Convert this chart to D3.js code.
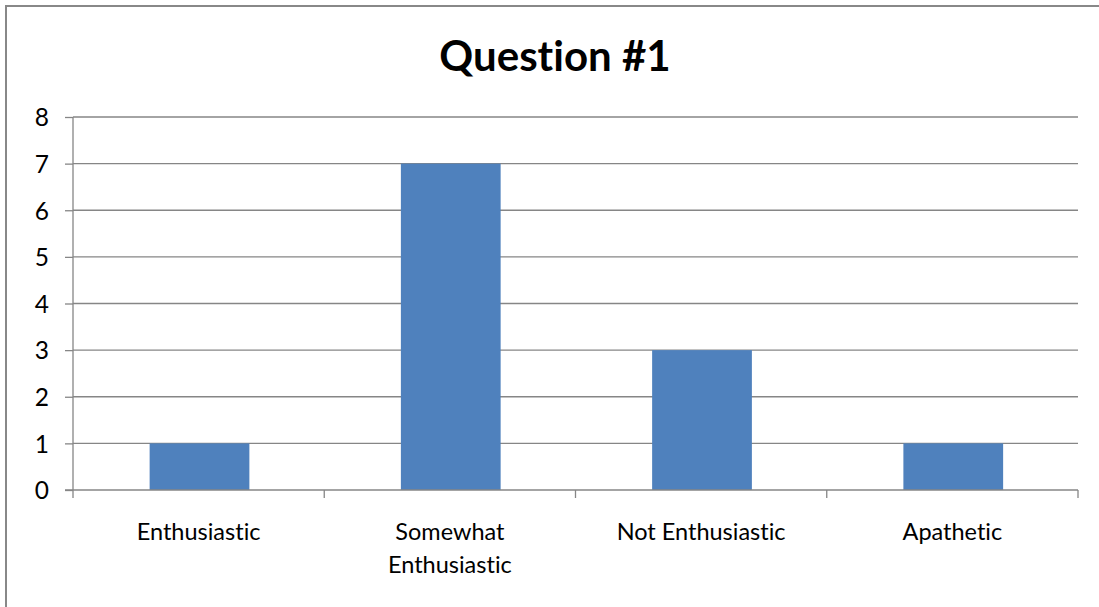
<!DOCTYPE html>
<html>
<head>
<meta charset="utf-8">
<script src="https://cdn.jsdelivr.net/npm/d3@7"></script>
<style>
html,body{margin:0;padding:0;background:#fff;}
svg{display:block;}
text{font-family:Lato, "Open Sans", sans-serif;fill:#000;font-variant-ligatures:none;font-feature-settings:"liga" 0, "clig" 0;}
</style>
</head>
<body>
<svg id="chart" width="1099" height="607"></svg>
<script>
const title = "Question #1";
const categories = [["Enthusiastic"], ["Somewhat", "Enthusiastic"], ["Not Enthusiastic"], ["Apathetic"]];
const values = [1, 7, 3, 1];
const yTicks = [0, 1, 2, 3, 4, 5, 6, 7, 8];

const W = 1099, H = 607;
const m = {left: 73, right: 1078, top: 117, bottom: 490};
const svg = d3.select("#chart");

// outer frame (top and left edges visible)
svg.append("line").attr("x1", 6).attr("x2", W).attr("y1", 6).attr("y2", 6)
  .attr("stroke", "#888").attr("stroke-width", 2);
svg.append("line").attr("x1", 6).attr("x2", 6).attr("y1", 5).attr("y2", H)
  .attr("stroke", "#888").attr("stroke-width", 2);

const keys = categories.map(c => c.join(" "));
const x = d3.scaleBand().domain(keys).range([m.left, m.right]).padding(0);
const y = d3.scaleLinear().domain([0, 8]).range([m.bottom, m.top]);

// gridlines
svg.append("g").selectAll("line").data(yTicks.filter(d => d > 0)).join("line")
  .attr("x1", m.left).attr("x2", m.right)
  .attr("y1", d => y(d)).attr("y2", d => y(d))
  .attr("stroke", "#868686").attr("stroke-width", 1.3);

// bars
const bw = x.bandwidth();
svg.append("g").selectAll("rect").data(values).join("rect")
  .attr("x", (d, i) => x(keys[i]) + bw * 0.305)
  .attr("width", bw * 0.397)
  .attr("y", d => y(d))
  .attr("height", d => y(0) - y(d))
  .attr("fill", "#4F81BD");

// y axis
const yAxis = d3.axisLeft(y).tickValues(yTicks).tickSize(8).tickPadding(16).tickFormat(d3.format("d"));
const gy = svg.append("g").attr("transform", `translate(${m.left},0)`).call(yAxis);
gy.select(".domain").attr("stroke", "#868686").attr("stroke-width", 1.3).attr("d", `M0,${m.bottom}V${m.top}`);
gy.selectAll(".tick line").attr("stroke", "#868686").attr("stroke-width", 1.3);
gy.selectAll(".tick text").attr("font-size", 24.5).attr("font-family", "Lato").attr("fill", "#000").attr("dy", "0.36em");

// x axis line + ticks at boundaries
svg.append("line").attr("x1", m.left - 8).attr("x2", m.right).attr("y1", m.bottom).attr("y2", m.bottom)
  .attr("stroke", "#868686").attr("stroke-width", 1.3);
const bounds = keys.map(k => x(k)).concat([m.right]);
svg.append("g").selectAll("line").data(bounds).join("line")
  .attr("x1", d => d).attr("x2", d => d).attr("y1", m.bottom).attr("y2", m.bottom + 8)
  .attr("stroke", "#868686").attr("stroke-width", 1.3);

// category labels
const lbl = svg.append("g").selectAll("text").data(categories).join("text")
  .attr("text-anchor", "middle").attr("font-size", 23.5)
  .attr("x", (d, i) => x(keys[i]) + bw / 2)
  .attr("y", 540);
lbl.selectAll("tspan").data(d => d).join("tspan")
  .attr("x", function() { return d3.select(this.parentNode).attr("x"); })
  .attr("dy", (d, i) => i === 0 ? 0 : 33)
  .text(d => d);

// title
svg.append("text").attr("x", 555).attr("y", 71).attr("text-anchor", "middle")
  .attr("font-size", 42).attr("font-weight", "bold").text(title);
</script>
</body>
</html>
